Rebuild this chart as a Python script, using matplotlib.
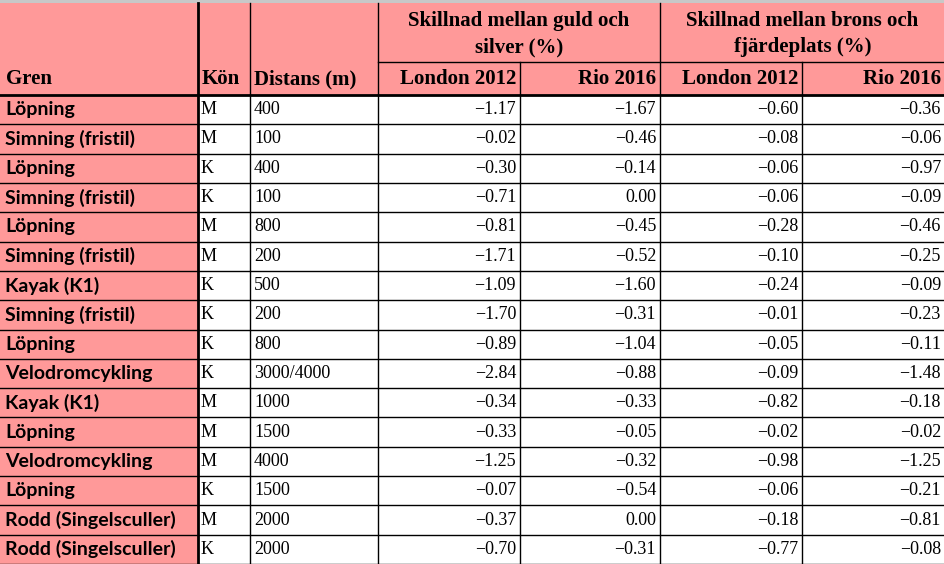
import matplotlib.pyplot as plt

gren = ['Löpning', 'Simning (fristil)', 'Löpning', 'Simning (fristil)', 'Löpning',
        'Simning (fristil)', 'Kayak (K1)', 'Simning (fristil)', 'Löpning', 'Velodromcykling',
        'Kayak (K1)', 'Löpning', 'Velodromcykling', 'Löpning', 'Rodd (Singelsculler)',
        'Rodd (Singelsculler)']
kon = ['M', 'M', 'K', 'K', 'M', 'M', 'K', 'K', 'K', 'K', 'M', 'M', 'M', 'K', 'M', 'K']
distans = ['400', '100', '400', '100', '800', '200', '500', '200', '800', '3000/4000',
           '1000', '1500', '4000', '1500', '2000', '2000']
gs_london = [-1.17, -0.02, -0.30, -0.71, -0.81, -1.71, -1.09, -1.70, -0.89, -2.84,
             -0.34, -0.33, -1.25, -0.07, -0.37, -0.70]
gs_rio = [-1.67, -0.46, -0.14, 0.00, -0.45, -0.52, -1.60, -0.31, -1.04, -0.88,
          -0.33, -0.05, -0.32, -0.54, 0.00, -0.31]
bf_london = [-0.60, -0.08, -0.06, -0.06, -0.28, -0.10, -0.24, -0.01, -0.05, -0.09,
             -0.82, -0.02, -0.98, -0.06, -0.18, -0.77]
bf_rio = [-0.36, -0.06, -0.97, -0.09, -0.46, -0.25, -0.09, -0.23, -0.11, -1.48,
          -0.18, -0.02, -1.25, -0.21, -0.81, -0.08]

W, H = 945, 564
xs = [0, 198, 250, 378, 520, 660, 802, 945]
pink = '#ff9999'
serif = 'Liberation Serif'

fig = plt.figure(figsize=(W / 100, H / 100), dpi=100)
ax = fig.add_axes([0, 0, 1, 1])
ax.set_xlim(0, W)
ax.set_ylim(H, 0)
ax.axis('off')

h1, h2, top = 62, 95, 3
rh = (H - h2) / len(gren)

def rect(x0, y0, x1, y1, fc):
    ax.fill([x0, x1, x1, x0], [y0, y0, y1, y1], color=fc, lw=0)

ax.fill([0, W, W, 0], [0, 0, top, top], color='#c8c8c8', lw=0)
rect(0, top, W, h2, pink)
for i in range(len(gren)):
    y0 = h2 + i * rh
    rect(0, y0, xs[1], y0 + rh, pink)

def fmt(v):
    return '0.00' if v == 0 else '\u2212%.2f' % abs(v)

# grid lines
ax.plot([0, W], [h2, h2], color='black', lw=2)
ax.plot([xs[3], W], [h1, h1], color='black', lw=1)
for i in range(1, len(gren) + 1):
    y = h2 + i * rh
    ax.plot([0, W], [y, y], color='black', lw=1)
for k, x in enumerate(xs[1:-1], start=1):
    if x in (xs[4], xs[6]):
        ax.plot([x, x], [h1, H], color='black', lw=1)
    else:
        ax.plot([x, x], [top, H], color='black', lw=2 if k == 1 else 1)

hs = dict(fontsize=15, fontweight='bold', family=serif, va='center')
ax.text(6, 79, 'Gren', ha='left', **hs)
ax.text(xs[1] + 4, 79, 'Kön', ha='left', **hs)
ax.text(xs[2] + 4, 79, 'Distans (m)', ha='left', **hs)
ax.text(xs[4] - 4, 79, 'London 2012', ha='right', **hs)
ax.text(xs[5] - 4, 79, 'Rio 2016', ha='right', **hs)
ax.text(xs[6] - 4, 79, 'London 2012', ha='right', **hs)
ax.text(xs[7] - 4, 79, 'Rio 2016', ha='right', **hs)
ax.text((xs[3] + xs[5]) / 2, 34, 'Skillnad mellan guld och\nsilver (%)', ha='center',
        linespacing=1.45, **hs)
ax.text((xs[5] + xs[7]) / 2, 34, 'Skillnad mellan brons och\nfjärdeplats (%)', ha='center',
        linespacing=1.45, **hs)

for i in range(len(gren)):
    y = h2 + (i + 0.5) * rh
    ax.text(5, y, gren[i], ha='left', va='center', fontsize=14, fontweight='bold',
            family='Lato')
    ax.text(xs[1] + 3, y, kon[i], ha='left', va='center', fontsize=13, family=serif)
    ax.text(xs[2] + 4, y, distans[i], ha='left', va='center', fontsize=13, family=serif)
    for j, col in enumerate([gs_london, gs_rio, bf_london, bf_rio]):
        ax.text(xs[4 + j] - 4, y, fmt(col[i]), ha='right', va='center', fontsize=13,
                family=serif)

fig.savefig('out.png', dpi=100)
